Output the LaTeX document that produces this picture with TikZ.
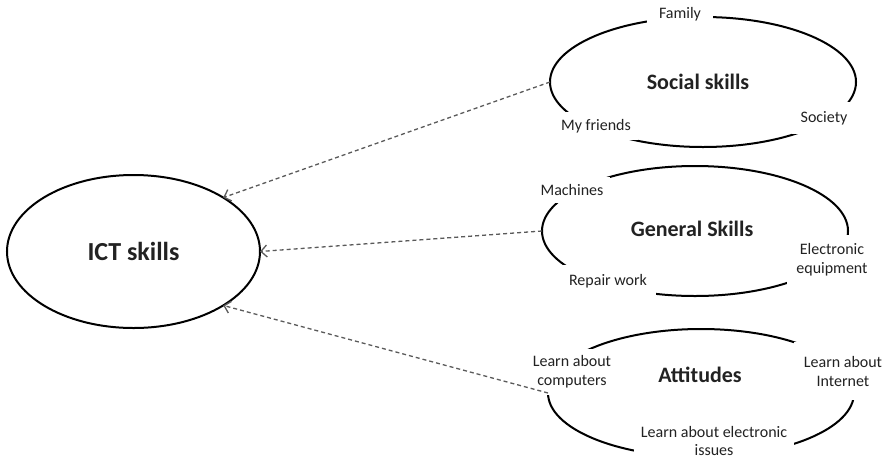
\documentclass[tikz,border=0pt]{standalone}
\usepackage{fontspec}
\setmainfont{Carlito}
\usetikzlibrary{shapes.geometric,arrows.meta}
\definecolor{txt}{HTML}{222222}
\definecolor{linkgray}{HTML}{5A5A5A}
\tikzset{
  bigell/.style={ellipse,draw=black,line width=2pt,inner sep=0pt,outer sep=0pt},
  title/.style={font=\bfseries\fontsize{22}{26}\selectfont,text=txt,inner sep=0pt},
  lab/.style={font=\fontsize{16}{19}\selectfont,text=txt,fill=white,inner sep=7pt,align=center},
  link/.style={draw=linkgray,line width=1.3pt,dash pattern=on 4pt off 3pt,-{Straight Barb[length=6pt,width=12pt,line width=1.3pt]}}
}
\begin{document}
\begin{tikzpicture}[x=1pt,y=-1pt]
\useasboundingbox (0,0) rectangle (885,461);
% main ellipse
\node[bigell,minimum width=253pt,minimum height=153pt,font=\bfseries\fontsize{26}{30}\selectfont,text=txt] (ict) at (133.5,251.5) {ICT skills};
% right ellipses
\node[bigell,minimum width=306pt,minimum height=130pt] (soc) at (703,82) {};
\node[bigell,minimum width=306pt,minimum height=130pt] (gen) at (695,231) {};
\node[bigell,minimum width=306pt,minimum height=128pt] (att) at (701,393) {};
% titles
\node[title] (tsoc) at (698,82) {Social skills};
\node[title] (tgen) at (692,229) {General Skills};
\node[title] (tatt) at (700,375) {Attitudes};
% labels on outlines
\node[lab,inner xsep=12pt] (fam) at (680,14) {Family};
\node[lab] (fri) at (596,126) {My friends};
\node[lab,inner sep=9pt] (soci) at (824,118) {Society};
\node[lab] (mach) at (572,190) {Machines};
\node[lab,inner sep=9pt] (rep) at (608,281) {Repair work};
\node[lab,inner sep=9pt] (elec) at (832,260) {Electronic\\equipment};
\node[lab] (comp) at (572,372) {Learn about\\computers};
\node[lab,inner sep=10pt,inner ysep=14pt] (inet) at (843,371) {Learn about\\Internet};
\node[lab,font=\fontsize{16}{18}\selectfont] (iss) at (714,441) {Learn about electronic\\issues};
% connectors
\draw[link] (soc.west) -- (ict.31);
\draw[link] (gen.west) -- (ict.east);
\draw[link] (att.west) -- (ict.-31);
\end{tikzpicture}
\end{document}
